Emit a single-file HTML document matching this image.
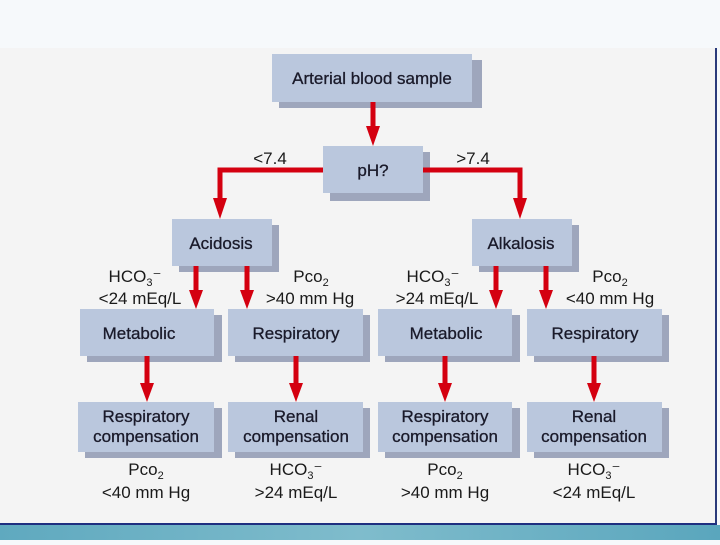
<!DOCTYPE html>
<html><head><meta charset="utf-8"><style>
html,body{margin:0;padding:0;}
body{width:720px;height:540px;overflow:hidden;background:#f6f9fb;font-family:"Liberation Sans",sans-serif;}
</style></head><body>
<svg width="720" height="540" xmlns="http://www.w3.org/2000/svg" font-family="Liberation Sans, sans-serif">
<defs>
<linearGradient id="band" x1="0" y1="0" x2="1" y2="0">
<stop offset="0" stop-color="#5fa9bf"/><stop offset="0.5" stop-color="#7fbccc"/><stop offset="1" stop-color="#5aa6bd"/>
</linearGradient>
<marker id="ah" markerWidth="4" markerHeight="4" refX="2" refY="2" orient="auto"></marker>
</defs>
<rect x="0" y="0" width="720" height="48" fill="#f6f9fb"/>
<rect x="0" y="48" width="716" height="476" fill="#f4f4f4"/>
<rect x="715" y="48" width="2" height="476" fill="#2a3a7a"/>
<rect x="0" y="523" width="717" height="2" fill="#1e2f80"/>
<rect x="0" y="525" width="720" height="15" fill="url(#band)"/>

<g fill="#9ea6bc">
<rect x="279" y="60" width="203" height="48"/>
<rect x="330" y="152" width="100" height="49"/>
<rect x="179" y="225" width="100" height="47"/>
<rect x="479" y="225" width="100" height="47"/>
<rect x="87" y="315" width="135" height="47"/>
<rect x="235" y="315" width="135" height="47"/>
<rect x="385" y="315" width="135" height="47"/>
<rect x="534" y="315" width="135" height="47"/>
<rect x="85" y="408" width="137" height="50"/>
<rect x="235" y="408" width="135" height="50"/>
<rect x="385" y="408" width="135" height="50"/>
<rect x="534" y="408" width="135" height="50"/>
</g>
<g fill="#bac7dd">
<rect x="272" y="54" width="200" height="48"/>
<rect x="323" y="146" width="100" height="47"/>
<rect x="172" y="219" width="100" height="47"/>
<rect x="472" y="219" width="100" height="47"/>
<rect x="80" y="309" width="134" height="47"/>
<rect x="228" y="309" width="135" height="47"/>
<rect x="378" y="309" width="134" height="47"/>
<rect x="527" y="309" width="135" height="47"/>
<rect x="78" y="402" width="136" height="50"/>
<rect x="228" y="402" width="135" height="50"/>
<rect x="378" y="402" width="134" height="50"/>
<rect x="527" y="402" width="135" height="50"/>
</g>

<g stroke="#d40010" stroke-width="5" fill="none">
<line x1="373" y1="102" x2="373" y2="128"/>
<polyline points="323,170 220,170 220,200"/>
<polyline points="423,170 520,170 520,200"/>
<line x1="196" y1="266" x2="196" y2="292"/>
<line x1="247" y1="266" x2="247" y2="292"/>
<line x1="496" y1="266" x2="496" y2="292"/>
<line x1="546" y1="266" x2="546" y2="292"/>
<line x1="147" y1="356" x2="147" y2="385"/>
<line x1="296" y1="356" x2="296" y2="385"/>
<line x1="445" y1="356" x2="445" y2="385"/>
<line x1="594" y1="356" x2="594" y2="385"/>
</g>
<g fill="#d40010">
<polygon points="366,126 380,126 373,146"/>
<polygon points="213,198 227,198 220,219"/>
<polygon points="513,198 527,198 520,219"/>
<polygon points="189,290 203,290 196,309"/>
<polygon points="240,290 254,290 247,309"/>
<polygon points="489,290 503,290 496,309"/>
<polygon points="539,290 553,290 546,309"/>
<polygon points="140,383 154,383 147,402"/>
<polygon points="289,383 303,383 296,402"/>
<polygon points="438,383 452,383 445,402"/>
<polygon points="587,383 601,383 594,402"/>
</g>

<g font-size="17" fill="#1a1a2a" text-anchor="middle" stroke="#1a1a2a" stroke-width="0.3">
<text x="372" y="84">Arterial blood sample</text>
<text x="373" y="176">pH?</text>
<text x="221" y="249">Acidosis</text>
<text x="521" y="249">Alkalosis</text>
<text x="139" y="339">Metabolic</text>
<text x="296" y="339">Respiratory</text>
<text x="446" y="339">Metabolic</text>
<text x="595" y="339">Respiratory</text>
<text x="146" y="422">Respiratory</text>
<text x="146" y="442">compensation</text>
<text x="296" y="422">Renal</text>
<text x="296" y="442">compensation</text>
<text x="445" y="422">Respiratory</text>
<text x="445" y="442">compensation</text>
<text x="594" y="422">Renal</text>
<text x="594" y="442">compensation</text>
</g>
<g font-size="17" fill="#1a1a1a" text-anchor="middle">
<text x="270" y="164">&lt;7.4</text>
<text x="473" y="164">&gt;7.4</text>
<text x="135" y="282">HCO<tspan font-size="11" dy="4">3</tspan><tspan dy="-4">⁻</tspan></text>
<text x="140" y="304">&lt;24 mEq/L</text>
<text x="311" y="282">Pco<tspan font-size="11" dy="4">2</tspan></text>
<text x="310" y="304">&gt;40 mm Hg</text>
<text x="433" y="282">HCO<tspan font-size="11" dy="4">3</tspan><tspan dy="-4">⁻</tspan></text>
<text x="437" y="304">&gt;24 mEq/L</text>
<text x="610" y="282">Pco<tspan font-size="11" dy="4">2</tspan></text>
<text x="610" y="304">&lt;40 mm Hg</text>
<text x="146" y="475">Pco<tspan font-size="11" dy="4">2</tspan></text>
<text x="146" y="498">&lt;40 mm Hg</text>
<text x="296" y="475">HCO<tspan font-size="11" dy="4">3</tspan><tspan dy="-4">⁻</tspan></text>
<text x="296" y="498">&gt;24 mEq/L</text>
<text x="445" y="475">Pco<tspan font-size="11" dy="4">2</tspan></text>
<text x="445" y="498">&gt;40 mm Hg</text>
<text x="594" y="475">HCO<tspan font-size="11" dy="4">3</tspan><tspan dy="-4">⁻</tspan></text>
<text x="594" y="498">&lt;24 mEq/L</text>
</g>
</svg>
</body></html>
